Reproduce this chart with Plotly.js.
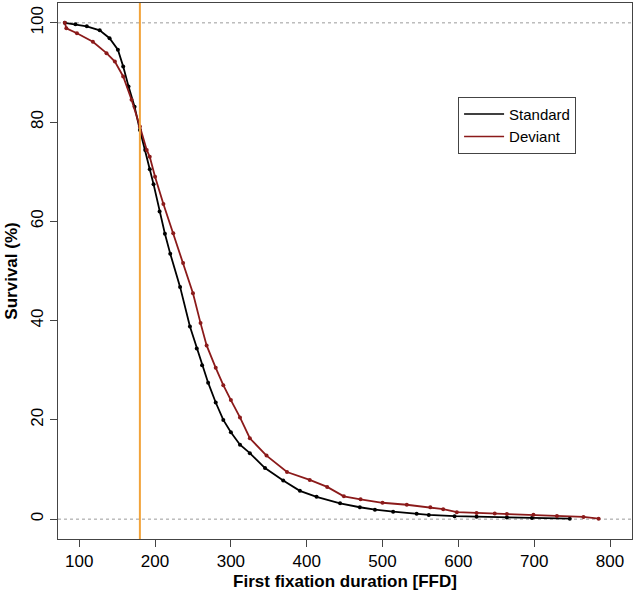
<!DOCTYPE html>
<html>
<head>
<meta charset="utf-8">
<script src="https://cdn.plot.ly/plotly-3.0.1.min.js"></script>
<style>html,body{margin:0;padding:0;background:#fff}#chart{width:635px;height:595px}</style>
</head>
<body>
<div id="chart"></div>
<script>
const seriesNames = ["Standard", "Deviant"];
const standardFFD = [81,95,110,127,140,151,158,165,173,180,187,193,198,206,213,220,233,246,255,262,270,280,290,300,312,325,345,369,391,413,444,470,490,514,545,561,595,624,664,697,747];
const standardSurv = [100,99.7,99.3,98.5,96.9,94.6,91.2,87.2,83.1,78.4,74.4,70.5,67.5,62,57.5,53.5,46.8,38.8,34.4,31,27.5,23.5,20,17.5,15,13.3,10.3,7.8,5.7,4.5,3.2,2.4,1.9,1.5,1.1,0.85,0.6,0.5,0.35,0.25,0.1];
const deviantFFD = [81,83,97,118,136,147,158,169,180,189,193,200,211,224,237,250,260,268,280,290,300,312,325,347,374,404,427,449,471,500,532,563,580,598,624,648,664,699,730,765,785];
const deviantSurv = [100,98.9,97.9,96.2,93.9,92.2,89.2,84.5,79.1,74.4,73,69,63.5,57.6,51.6,45.5,39.5,35,30.5,27,24,20.5,16.3,12.8,9.5,7.9,6.5,4.6,4.0,3.3,2.9,2.4,2.0,1.4,1.25,1.15,1.05,0.9,0.65,0.45,0.1];
const cutoffFFD = 180;
const xTicks = [100,200,300,400,500,600,700,800];
const yTicks = [0,20,40,60,80,100];
const refLevels = [0, 100];

const colors = {Standard: "#000000", Deviant: "#8B1A1A"};
const font = "Liberation Sans, Arial, Helvetica, sans-serif";

const traces = [
  {x: standardFFD, y: standardSurv, name: seriesNames[0], mode: "lines+markers",
   line: {color: colors.Standard, width: 1.8}, marker: {color: colors.Standard, size: 4},
   showlegend: false},
  {x: deviantFFD, y: deviantSurv, name: seriesNames[1], mode: "lines+markers",
   line: {color: colors.Deviant, width: 1.8}, marker: {color: colors.Deviant, size: 4},
   showlegend: false},
  {x: [null], y: [null], name: seriesNames[0], mode: "lines", line: {color: colors.Standard, width: 1.5}},
  {x: [null], y: [null], name: seriesNames[1], mode: "lines", line: {color: colors.Deviant, width: 1.5}}
];

const shapes = refLevels.map(v => ({type: "line", xref: "paper", x0: 0, x1: 1, yref: "y", y0: v, y1: v,
  line: {color: "#9a9a9a", width: 1, dash: "3px,3px"}, layer: "below"}));
shapes.push({type: "line", xref: "x", x0: cutoffFFD, x1: cutoffFFD, yref: "paper", y0: 0, y1: 1,
  line: {color: "#F2A33A", width: 2}});

const layout = {
  width: 635, height: 595,
  margin: {l: 58, r: 3, t: 3, b: 56},
  paper_bgcolor: "#fff", plot_bgcolor: "#fff",
  font: {family: font, color: "#000", size: 16},
  showlegend: true,
  legend: {x: 0.697, y: 0.825, xanchor: "left", yanchor: "top", bgcolor: "#fff", itemwidth: 40,
    bordercolor: "#444", borderwidth: 1, font: {size: 15, family: font}},
  xaxis: {range: [72, 829], tickvals: xTicks, ticktext: xTicks.map(String), ticks: "outside", ticklen: 7,
    tickcolor: "#444", showgrid: false, zeroline: false, showline: true, linecolor: "#444", linewidth: 1, mirror: true,
    tickfont: {size: 17}, title: {text: "<b>First fixation duration [FFD]</b>", font: {size: 17}, standoff: 4}},
  yaxis: {range: [-4, 104], tickvals: yTicks, ticktext: yTicks.map(String), ticks: "outside", ticklen: 7,
    tickcolor: "#444", tickangle: -90, showgrid: false, zeroline: false, showline: true, linecolor: "#444", linewidth: 1, mirror: true,
    tickfont: {size: 17}, title: {text: "<b>Survival (%)</b>", font: {size: 17}, standoff: 6}},
  shapes: shapes
};

Plotly.newPlot("chart", traces, layout, {displayModeBar: false, staticPlot: true});
</script>
</body>
</html>
